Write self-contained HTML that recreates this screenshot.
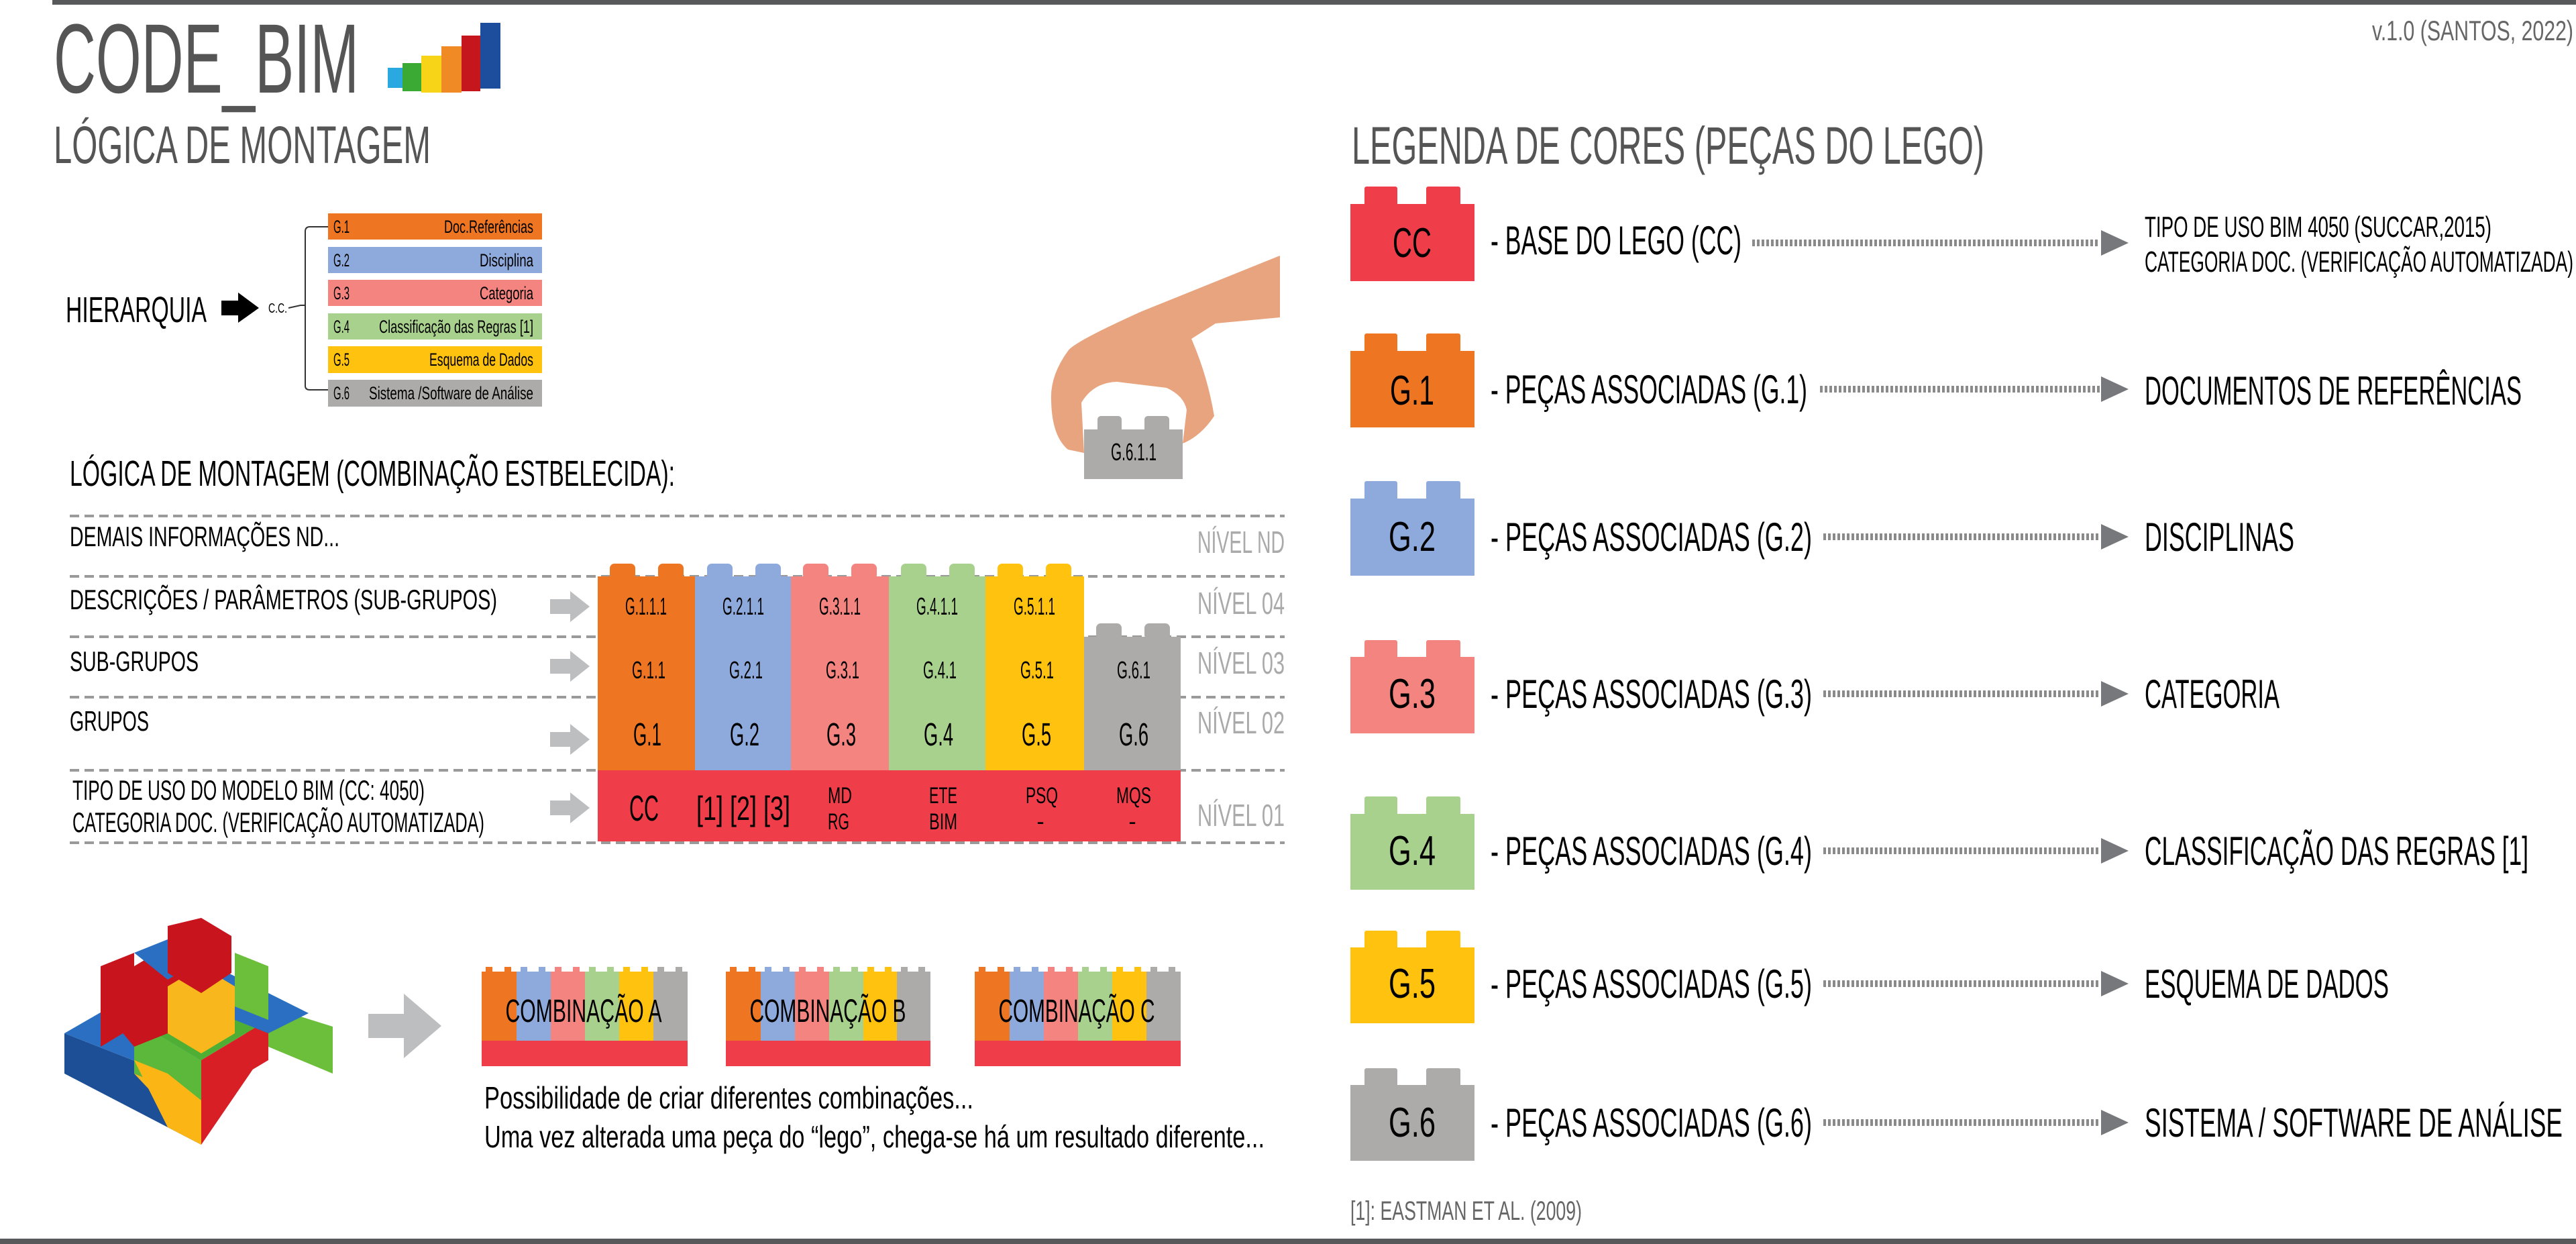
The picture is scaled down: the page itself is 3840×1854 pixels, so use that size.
<!DOCTYPE html>
<html><head><meta charset="utf-8"><style>
html,body{margin:0;padding:0;background:#fff}
svg{display:block}
text{font-family:"Liberation Sans",sans-serif}
</style></head><body>
<svg width="3840" height="1854" viewBox="0 0 3840 1854" xmlns="http://www.w3.org/2000/svg">
<rect x="0" y="0" width="3840" height="1854" fill="#fff"/>
<rect x="78" y="0" width="3762" height="7" fill="#58595b"/>
<rect x="0" y="1846" width="3840" height="8" fill="#58595b"/>

<text x="80" y="138" font-size="147" fill="#555" textLength="455" lengthAdjust="spacingAndGlyphs">CODE_BIM</text>
<g>
<rect x="578" y="101" width="24" height="30" fill="#29a9e0"/>
<rect x="600" y="94" width="28" height="42" fill="#3aaa35"/>
<rect x="628" y="83" width="30" height="55" fill="#f7d417"/>
<rect x="658" y="69" width="30" height="69" fill="#f08a24"/>
<rect x="688" y="53" width="28" height="83" fill="#c4161c"/>
<rect x="716" y="34" width="30" height="98" fill="#1d4e9e"/>
</g>
<text x="80" y="243" font-size="79" fill="#555" textLength="562" lengthAdjust="spacingAndGlyphs">LÓGICA DE MONTAGEM</text>
<text x="3836" y="60" font-size="42" fill="#666" text-anchor="end" textLength="300" lengthAdjust="spacingAndGlyphs">v.1.0 (SANTOS, 2022)</text>

<g>
<text x="98" y="480" font-size="54" fill="#000" textLength="210" lengthAdjust="spacingAndGlyphs">HIERARQUIA</text>
<polygon points="330,448 355,448 355,436 386,459 355,481 355,470 330,470" fill="#000"/>
<text x="400" y="466" font-size="20" fill="#000" textLength="28" lengthAdjust="spacingAndGlyphs">C.C.</text>
<path d="M489,338 H462 Q455,338 455,345 V575 Q455,581 462,581 H489 M430,459 L448,455 L455,455" fill="none" stroke="#333" stroke-width="2"/>
<g><rect x="489" y="318" width="319" height="39" fill="#EE7623"/><text x="497" y="347" font-size="27" textLength="24" lengthAdjust="spacingAndGlyphs">G.1</text><text x="795" y="347" font-size="27" text-anchor="end" textLength="133" lengthAdjust="spacingAndGlyphs">Doc.Referências</text></g>
<g><rect x="489" y="368" width="319" height="39" fill="#8EA9DB"/><text x="497" y="397" font-size="27" textLength="24" lengthAdjust="spacingAndGlyphs">G.2</text><text x="795" y="397" font-size="27" text-anchor="end" textLength="80" lengthAdjust="spacingAndGlyphs">Disciplina</text></g>
<g><rect x="489" y="417" width="319" height="39" fill="#F4847F"/><text x="497" y="446" font-size="27" textLength="24" lengthAdjust="spacingAndGlyphs">G.3</text><text x="795" y="446" font-size="27" text-anchor="end" textLength="80" lengthAdjust="spacingAndGlyphs">Categoria</text></g>
<g><rect x="489" y="467" width="319" height="39" fill="#A9D18E"/><text x="497" y="496" font-size="27" textLength="24" lengthAdjust="spacingAndGlyphs">G.4</text><text x="795" y="496" font-size="27" text-anchor="end" textLength="230" lengthAdjust="spacingAndGlyphs">Classificação das Regras [1]</text></g>
<g><rect x="489" y="516" width="319" height="40" fill="#FFC20E"/><text x="497" y="545" font-size="27" textLength="24" lengthAdjust="spacingAndGlyphs">G.5</text><text x="795" y="545" font-size="27" text-anchor="end" textLength="155" lengthAdjust="spacingAndGlyphs">Esquema de Dados</text></g>
<g><rect x="489" y="566" width="319" height="40" fill="#ADAAAA"/><text x="497" y="595" font-size="27" textLength="24" lengthAdjust="spacingAndGlyphs">G.6</text><text x="795" y="595" font-size="27" text-anchor="end" textLength="245" lengthAdjust="spacingAndGlyphs">Sistema /Software de Análise</text></g>
</g>

<g>
<path d="M1908,381 L1702,464 Q1600,510 1592,523 Q1565,560 1567,597 Q1568,650 1592,670 L1616,675 L1612,600 Q1630,570 1665,569 L1739,578 Q1765,590 1769,611 L1763,661 Q1790,650 1810,620 Q1800,560 1776,505 L1812,482 L1908,473 Z" fill="#E8A47E"/>
<rect x="1636" y="620" width="36" height="24" rx="5" fill="#ADAAAA"/>
<rect x="1706" y="620" width="37" height="24" rx="5" fill="#ADAAAA"/>
<rect x="1616" y="640" width="147" height="74" fill="#ADAAAA"/>
<text x="1690" y="686" font-size="36" text-anchor="middle" textLength="68" lengthAdjust="spacingAndGlyphs">G.6.1.1</text>
</g>

<text x="104" y="724" font-size="54" fill="#000" textLength="902" lengthAdjust="spacingAndGlyphs">LÓGICA DE MONTAGEM (COMBINAÇÃO ESTBELECIDA):</text>

<g stroke="#9a9a9a" stroke-width="4" stroke-dasharray="14 8">
<line x1="104" y1="769" x2="1915" y2="769"/><line x1="104" y1="859" x2="1915" y2="859"/><line x1="104" y1="949" x2="1915" y2="949"/><line x1="104" y1="1039" x2="1915" y2="1039"/><line x1="104" y1="1148" x2="1915" y2="1148"/><line x1="104" y1="1256" x2="1915" y2="1256"/>
</g>

<g font-size="42" fill="#000">
<text x="104" y="814" textLength="402" lengthAdjust="spacingAndGlyphs">DEMAIS INFORMAÇÕES ND...</text>
<text x="104" y="908" textLength="637" lengthAdjust="spacingAndGlyphs">DESCRIÇÕES / PARÂMETROS (SUB-GRUPOS)</text>
<text x="104" y="1000" textLength="192" lengthAdjust="spacingAndGlyphs">SUB-GRUPOS</text>
<text x="104" y="1089" textLength="118" lengthAdjust="spacingAndGlyphs">GRUPOS</text>
<text x="108" y="1192" textLength="525" lengthAdjust="spacingAndGlyphs">TIPO DE USO DO MODELO BIM (CC: 4050)</text>
<text x="108" y="1240" textLength="614" lengthAdjust="spacingAndGlyphs">CATEGORIA DOC. (VERIFICAÇÃO AUTOMATIZADA)</text>
</g>
<g font-size="46" fill="#aaa" text-anchor="end">
<text x="1915" y="824" textLength="130" lengthAdjust="spacingAndGlyphs">NÍVEL ND</text>
<text x="1915" y="915" textLength="130" lengthAdjust="spacingAndGlyphs">NÍVEL 04</text>
<text x="1915" y="1004" textLength="130" lengthAdjust="spacingAndGlyphs">NÍVEL 03</text>
<text x="1915" y="1093" textLength="130" lengthAdjust="spacingAndGlyphs">NÍVEL 02</text>
<text x="1915" y="1231" textLength="130" lengthAdjust="spacingAndGlyphs">NÍVEL 01</text>
</g>
<g fill="#bcbec0">
<polygon points="820,893 850,893 850,881 879,904 850,927 850,915 820,915"/>
<polygon points="820,982 850,982 850,970 879,993 850,1016 850,1004 820,1004"/>
<polygon points="820,1091 850,1091 850,1079 879,1102 850,1125 850,1113 820,1113"/>
<polygon points="820,1193 850,1193 850,1181 879,1204 850,1227 850,1215 820,1215"/>
</g>

<g>
<g fill="#EE7623"><rect x="909" y="840" width="38" height="24" rx="7"/><rect x="981" y="840" width="38" height="24" rx="7"/><rect x="891" y="859" width="146" height="289"/></g>
<g fill="#8EA9DB"><rect x="1054" y="840" width="38" height="24" rx="7"/><rect x="1126" y="840" width="38" height="24" rx="7"/><rect x="1036" y="859" width="144" height="289"/></g>
<g fill="#F4847F"><rect x="1197" y="840" width="38" height="24" rx="7"/><rect x="1269" y="840" width="38" height="24" rx="7"/><rect x="1179" y="859" width="147" height="289"/></g>
<g fill="#A9D18E"><rect x="1343" y="840" width="38" height="24" rx="7"/><rect x="1415" y="840" width="38" height="24" rx="7"/><rect x="1325" y="859" width="145" height="289"/></g>
<g fill="#FFC20E"><rect x="1487" y="840" width="38" height="24" rx="7"/><rect x="1559" y="840" width="38" height="24" rx="7"/><rect x="1469" y="859" width="147" height="289"/></g>
<g fill="#ADAAAA"><rect x="1634" y="929" width="38" height="24" rx="7"/><rect x="1706" y="929" width="38" height="24" rx="7"/><rect x="1616" y="949" width="144" height="199"/></g>
<rect x="891" y="1148" width="869" height="106" fill="#EF3E4A"/>
<g font-size="36" text-anchor="middle" fill="#000">
<text x="963" y="916" textLength="62" lengthAdjust="spacingAndGlyphs">G.1.1.1</text>
<text x="1108" y="916" textLength="62" lengthAdjust="spacingAndGlyphs">G.2.1.1</text>
<text x="1252" y="916" textLength="62" lengthAdjust="spacingAndGlyphs">G.3.1.1</text>
<text x="1397" y="916" textLength="62" lengthAdjust="spacingAndGlyphs">G.4.1.1</text>
<text x="1542" y="916" textLength="62" lengthAdjust="spacingAndGlyphs">G.5.1.1</text>
<text x="967" y="1011" textLength="50" lengthAdjust="spacingAndGlyphs">G.1.1</text>
<text x="1112" y="1011" textLength="50" lengthAdjust="spacingAndGlyphs">G.2.1</text>
<text x="1256" y="1011" textLength="50" lengthAdjust="spacingAndGlyphs">G.3.1</text>
<text x="1401" y="1011" textLength="50" lengthAdjust="spacingAndGlyphs">G.4.1</text>
<text x="1546" y="1011" textLength="50" lengthAdjust="spacingAndGlyphs">G.5.1</text>
<text x="1690" y="1011" textLength="50" lengthAdjust="spacingAndGlyphs">G.6.1</text>
</g>
<g font-size="48" text-anchor="middle" fill="#000">
<text x="965" y="1111" textLength="42" lengthAdjust="spacingAndGlyphs">G.1</text>
<text x="1110" y="1111" textLength="44" lengthAdjust="spacingAndGlyphs">G.2</text>
<text x="1254" y="1111" textLength="44" lengthAdjust="spacingAndGlyphs">G.3</text>
<text x="1399" y="1111" textLength="44" lengthAdjust="spacingAndGlyphs">G.4</text>
<text x="1545" y="1111" textLength="44" lengthAdjust="spacingAndGlyphs">G.5</text>
<text x="1690" y="1111" textLength="44" lengthAdjust="spacingAndGlyphs">G.6</text>
</g>
<text x="960" y="1223" font-size="54" text-anchor="middle" textLength="44" lengthAdjust="spacingAndGlyphs">CC</text>
<text x="1108" y="1222" font-size="50" text-anchor="middle" textLength="140" lengthAdjust="spacingAndGlyphs">[1] [2] [3]</text>
<g font-size="34" text-anchor="middle">
<text x="1252" y="1197" textLength="36" lengthAdjust="spacingAndGlyphs">MD</text><text x="1250" y="1236" textLength="32" lengthAdjust="spacingAndGlyphs">RG</text>
<text x="1406" y="1197" textLength="42" lengthAdjust="spacingAndGlyphs">ETE</text><text x="1406" y="1236" textLength="42" lengthAdjust="spacingAndGlyphs">BIM</text>
<text x="1553" y="1197" textLength="48" lengthAdjust="spacingAndGlyphs">PSQ</text><text x="1551" y="1236">-</text>
<text x="1690" y="1197" textLength="52" lengthAdjust="spacingAndGlyphs">MQS</text><text x="1688" y="1236">-</text>
</g>
</g>

<g>
<polygon points="96,1540 96,1600 300,1706 300,1620" fill="#1c4f95"/>
<polygon points="96,1540 200,1480 300,1560 300,1620" fill="#2a6fc2"/>
<polygon points="300,1620 300,1706 400,1560 400,1500" fill="#d81f26"/>
<polygon points="400,1500 400,1560 496,1600 496,1530" fill="#6cbf3a"/>
<polygon points="200,1600 300,1640 300,1706" fill="#f7b71d"/>
<polygon points="200,1520 300,1470 400,1520 300,1580" fill="#4fae34"/>
<polygon points="200,1520 300,1580 300,1640 200,1600" fill="#5bb83a"/>
<polygon points="300,1580 400,1520 400,1580 300,1640" fill="#d81f26"/>
<polygon points="150,1470 250,1410 300,1440 300,1520 200,1560 150,1500" fill="#c8151d"/>
<polygon points="150,1440 200,1420 200,1530 150,1560" fill="#c8151d"/>
<polygon points="200,1420 250,1400 300,1430 250,1460" fill="#2a6fc2"/>
<polygon points="300,1430 400,1480 460,1510 400,1540 350,1520 300,1500" fill="#2a6fc2"/>
<polygon points="350,1420 400,1440 400,1520 350,1500" fill="#6cbf3a"/>
<polygon points="250,1470 300,1440 350,1470 350,1540 300,1570 250,1540" fill="#f7b71d"/>
<polygon points="250,1380 300,1368 345,1395 345,1450 300,1480 250,1450" fill="#c8151d"/>
<polygon points="200,1580 250,1600 300,1640 300,1706 250,1680" fill="#fbb515"/>
</g>
<polygon points="549,1511 602,1511 602,1481 658,1529 602,1577 602,1547 549,1547" fill="#bcbec0"/>

<g>
<rect x="718" y="1448" width="52" height="103" fill="#EE7623"/><rect x="770" y="1448" width="51" height="103" fill="#8EA9DB"/><rect x="821" y="1448" width="51" height="103" fill="#F4847F"/><rect x="872" y="1448" width="51" height="103" fill="#A9D18E"/><rect x="923" y="1448" width="51" height="103" fill="#FFC20E"/><rect x="974" y="1448" width="51" height="103" fill="#ADAAAA"/>
<g fill="#EE7623"><rect x="724" y="1441" width="10" height="9"/><rect x="752" y="1441" width="10" height="9"/></g><g fill="#8EA9DB"><rect x="776" y="1441" width="10" height="9"/><rect x="803" y="1441" width="10" height="9"/></g><g fill="#F4847F"><rect x="827" y="1441" width="10" height="9"/><rect x="854" y="1441" width="10" height="9"/></g><g fill="#A9D18E"><rect x="878" y="1441" width="10" height="9"/><rect x="905" y="1441" width="10" height="9"/></g><g fill="#FFC20E"><rect x="929" y="1441" width="10" height="9"/><rect x="956" y="1441" width="10" height="9"/></g><g fill="#ADAAAA"><rect x="980" y="1441" width="10" height="9"/><rect x="1007" y="1441" width="10" height="9"/></g>
<rect x="718" y="1551" width="307" height="38" fill="#EF3E4A"/>
<text x="870" y="1523" font-size="48" text-anchor="middle" textLength="233" lengthAdjust="spacingAndGlyphs">COMBINAÇÃO A</text>
</g>
<g>
<rect x="1082" y="1448" width="52" height="103" fill="#EE7623"/><rect x="1134" y="1448" width="51" height="103" fill="#8EA9DB"/><rect x="1185" y="1448" width="51" height="103" fill="#F4847F"/><rect x="1236" y="1448" width="51" height="103" fill="#A9D18E"/><rect x="1287" y="1448" width="50" height="103" fill="#FFC20E"/><rect x="1337" y="1448" width="50" height="103" fill="#ADAAAA"/>
<g fill="#EE7623"><rect x="1088" y="1441" width="10" height="9"/><rect x="1116" y="1441" width="10" height="9"/></g><g fill="#8EA9DB"><rect x="1140" y="1441" width="10" height="9"/><rect x="1167" y="1441" width="10" height="9"/></g><g fill="#F4847F"><rect x="1191" y="1441" width="10" height="9"/><rect x="1218" y="1441" width="10" height="9"/></g><g fill="#A9D18E"><rect x="1242" y="1441" width="10" height="9"/><rect x="1269" y="1441" width="10" height="9"/></g><g fill="#FFC20E"><rect x="1293" y="1441" width="10" height="9"/><rect x="1319" y="1441" width="10" height="9"/></g><g fill="#ADAAAA"><rect x="1343" y="1441" width="10" height="9"/><rect x="1369" y="1441" width="10" height="9"/></g>
<rect x="1082" y="1551" width="305" height="38" fill="#EF3E4A"/>
<text x="1234" y="1523" font-size="48" text-anchor="middle" textLength="233" lengthAdjust="spacingAndGlyphs">COMBINAÇÃO B</text>
</g>
<g>
<rect x="1453" y="1448" width="52" height="103" fill="#EE7623"/><rect x="1505" y="1448" width="51" height="103" fill="#8EA9DB"/><rect x="1556" y="1448" width="51" height="103" fill="#F4847F"/><rect x="1607" y="1448" width="51" height="103" fill="#A9D18E"/><rect x="1658" y="1448" width="51" height="103" fill="#FFC20E"/><rect x="1709" y="1448" width="51" height="103" fill="#ADAAAA"/>
<g fill="#EE7623"><rect x="1459" y="1441" width="10" height="9"/><rect x="1487" y="1441" width="10" height="9"/></g><g fill="#8EA9DB"><rect x="1511" y="1441" width="10" height="9"/><rect x="1538" y="1441" width="10" height="9"/></g><g fill="#F4847F"><rect x="1562" y="1441" width="10" height="9"/><rect x="1589" y="1441" width="10" height="9"/></g><g fill="#A9D18E"><rect x="1613" y="1441" width="10" height="9"/><rect x="1640" y="1441" width="10" height="9"/></g><g fill="#FFC20E"><rect x="1664" y="1441" width="10" height="9"/><rect x="1691" y="1441" width="10" height="9"/></g><g fill="#ADAAAA"><rect x="1715" y="1441" width="10" height="9"/><rect x="1742" y="1441" width="10" height="9"/></g>
<rect x="1453" y="1551" width="307" height="38" fill="#EF3E4A"/>
<text x="1605" y="1523" font-size="48" text-anchor="middle" textLength="233" lengthAdjust="spacingAndGlyphs">COMBINAÇÃO C</text>
</g>
<text x="722" y="1652" font-size="46" textLength="729" lengthAdjust="spacingAndGlyphs">Possibilidade de criar diferentes combinações...</text>
<text x="722" y="1710" font-size="46" textLength="1163" lengthAdjust="spacingAndGlyphs">Uma vez alterada uma peça do “lego”, chega-se há um resultado diferente...</text>

<text x="2015" y="244" font-size="79" fill="#555" textLength="943" lengthAdjust="spacingAndGlyphs">LEGENDA DE CORES (PEÇAS DO LEGO)</text>
<g>
<g>
<g fill="#EF3E4A"><rect x="2034" y="278" width="49" height="30" rx="3"/><rect x="2126" y="278" width="51" height="30" rx="3"/><rect x="2013" y="304" width="185" height="115"/></g>
<text x="2105" y="383" font-size="62" text-anchor="middle" textLength="58" lengthAdjust="spacingAndGlyphs">CC</text>
<text x="2222" y="379" font-size="60" textLength="374" lengthAdjust="spacingAndGlyphs">- BASE DO LEGO (CC)</text>
<line x1="2612" y1="362" x2="3130" y2="362" stroke="#8a8a8a" stroke-width="10" stroke-dasharray="4 3"/>
<polygon points="3132,343 3173,362 3132,381" fill="#77787b"/>
<text x="3197" y="353" font-size="44" textLength="517" lengthAdjust="spacingAndGlyphs">TIPO DE USO BIM 4050 (SUCCAR,2015)</text>
<text x="3197" y="405" font-size="44" textLength="639" lengthAdjust="spacingAndGlyphs">CATEGORIA DOC. (VERIFICAÇÃO AUTOMATIZADA)</text>
</g>
<g>
<g fill="#EE7623"><rect x="2034" y="497" width="49" height="30" rx="3"/><rect x="2126" y="497" width="51" height="30" rx="3"/><rect x="2013" y="523" width="185" height="114"/></g>
<text x="2105" y="603" font-size="62" text-anchor="middle" textLength="66" lengthAdjust="spacingAndGlyphs">G.1</text>
<text x="2222" y="601" font-size="60" textLength="472" lengthAdjust="spacingAndGlyphs">- PEÇAS ASSOCIADAS (G.1)</text>
<line x1="2713" y1="580" x2="3130" y2="580" stroke="#8a8a8a" stroke-width="10" stroke-dasharray="4 3"/>
<polygon points="3132,561 3173,580 3132,599" fill="#77787b"/>
<text x="3197" y="603" font-size="60" textLength="562" lengthAdjust="spacingAndGlyphs">DOCUMENTOS DE REFERÊNCIAS</text>
</g>
<g>
<g fill="#8EA9DB"><rect x="2034" y="717" width="49" height="30" rx="3"/><rect x="2126" y="717" width="51" height="30" rx="3"/><rect x="2013" y="743" width="185" height="115"/></g>
<text x="2105" y="821" font-size="62" text-anchor="middle" textLength="70" lengthAdjust="spacingAndGlyphs">G.2</text>
<text x="2222" y="821" font-size="60" textLength="479" lengthAdjust="spacingAndGlyphs">- PEÇAS ASSOCIADAS (G.2)</text>
<line x1="2718" y1="800" x2="3130" y2="800" stroke="#8a8a8a" stroke-width="10" stroke-dasharray="4 3"/>
<polygon points="3132,781 3173,800 3132,819" fill="#77787b"/>
<text x="3197" y="821" font-size="60" textLength="223" lengthAdjust="spacingAndGlyphs">DISCIPLINAS</text>
</g>
<g>
<g fill="#F4847F"><rect x="2034" y="954" width="49" height="30" rx="3"/><rect x="2126" y="954" width="51" height="30" rx="3"/><rect x="2013" y="979" width="185" height="114"/></g>
<text x="2105" y="1055" font-size="62" text-anchor="middle" textLength="70" lengthAdjust="spacingAndGlyphs">G.3</text>
<text x="2222" y="1055" font-size="60" textLength="479" lengthAdjust="spacingAndGlyphs">- PEÇAS ASSOCIADAS (G.3)</text>
<line x1="2718" y1="1034" x2="3130" y2="1034" stroke="#8a8a8a" stroke-width="10" stroke-dasharray="4 3"/>
<polygon points="3132,1015 3173,1034 3132,1053" fill="#77787b"/>
<text x="3197" y="1055" font-size="60" textLength="201" lengthAdjust="spacingAndGlyphs">CATEGORIA</text>
</g>
<g>
<g fill="#A9D18E"><rect x="2034" y="1187" width="49" height="30" rx="3"/><rect x="2126" y="1187" width="51" height="30" rx="3"/><rect x="2013" y="1213" width="185" height="113"/></g>
<text x="2105" y="1289" font-size="62" text-anchor="middle" textLength="70" lengthAdjust="spacingAndGlyphs">G.4</text>
<text x="2222" y="1289" font-size="60" textLength="479" lengthAdjust="spacingAndGlyphs">- PEÇAS ASSOCIADAS (G.4)</text>
<line x1="2718" y1="1268" x2="3130" y2="1268" stroke="#8a8a8a" stroke-width="10" stroke-dasharray="4 3"/>
<polygon points="3132,1249 3173,1268 3132,1287" fill="#77787b"/>
<text x="3197" y="1289" font-size="60" textLength="572" lengthAdjust="spacingAndGlyphs">CLASSIFICAÇÃO DAS REGRAS [1]</text>
</g>
<g>
<g fill="#FFC20E"><rect x="2034" y="1387" width="49" height="30" rx="3"/><rect x="2126" y="1387" width="51" height="30" rx="3"/><rect x="2013" y="1412" width="185" height="113"/></g>
<text x="2105" y="1487" font-size="62" text-anchor="middle" textLength="70" lengthAdjust="spacingAndGlyphs">G.5</text>
<text x="2222" y="1487" font-size="60" textLength="479" lengthAdjust="spacingAndGlyphs">- PEÇAS ASSOCIADAS (G.5)</text>
<line x1="2718" y1="1466" x2="3130" y2="1466" stroke="#8a8a8a" stroke-width="10" stroke-dasharray="4 3"/>
<polygon points="3132,1447 3173,1466 3132,1485" fill="#77787b"/>
<text x="3197" y="1487" font-size="60" textLength="364" lengthAdjust="spacingAndGlyphs">ESQUEMA DE DADOS</text>
</g>
<g>
<g fill="#ADAAAA"><rect x="2034" y="1592" width="49" height="30" rx="3"/><rect x="2126" y="1592" width="51" height="30" rx="3"/><rect x="2013" y="1617" width="185" height="113"/></g>
<text x="2105" y="1694" font-size="62" text-anchor="middle" textLength="70" lengthAdjust="spacingAndGlyphs">G.6</text>
<text x="2222" y="1694" font-size="60" textLength="479" lengthAdjust="spacingAndGlyphs">- PEÇAS ASSOCIADAS (G.6)</text>
<line x1="2718" y1="1673" x2="3130" y2="1673" stroke="#8a8a8a" stroke-width="10" stroke-dasharray="4 3"/>
<polygon points="3132,1654 3173,1673 3132,1692" fill="#77787b"/>
<text x="3197" y="1694" font-size="60" textLength="623" lengthAdjust="spacingAndGlyphs">SISTEMA / SOFTWARE DE ANÁLISE</text>
</g>
</g>
<text x="2013" y="1818" font-size="40" fill="#666" textLength="345" lengthAdjust="spacingAndGlyphs">[1]: EASTMAN ET AL. (2009)</text>
</svg>
</body></html>
